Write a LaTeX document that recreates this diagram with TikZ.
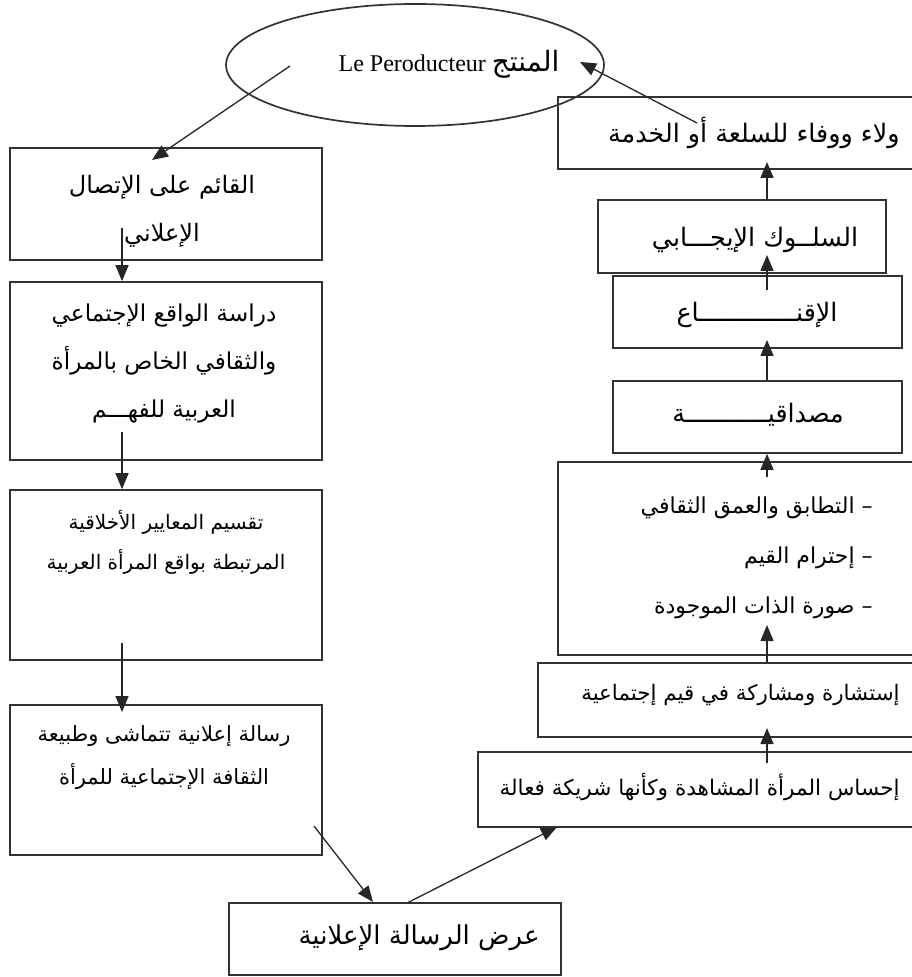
\documentclass[tikz,border=0pt]{standalone}
\usepackage{fontspec}
\setmainfont{Liberation Serif}
\newfontfamily\arabicfont[Script=Arabic]{DejaVu Sans}
\TeXXeTstate=1
\usetikzlibrary{arrows.meta,shapes.geometric,calc}
\newcommand{\rl}[1]{\beginR#1\endR}
\begin{document}
\begin{tikzpicture}[x=0.5pt,y=-0.5pt,
  box/.style={draw=black!80,line width=0.85pt,inner sep=0pt},
  arr/.style={draw=black!85,line width=0.65pt,-{Triangle[length=8pt,width=6.5pt]}},
  txt/.style={inner sep=0pt,align=center,font=\arabicfont\fontsize{#1}{24pt}\selectfont},
  txt/.default=12]
  \useasboundingbox (0,0) rectangle (911,977);
  % producer
  \node[box,ellipse,minimum width=189pt,minimum height=61pt] (prod) at (415,65) {};
  \node[inner sep=0pt,font=\fontsize{12}{14}\selectfont] (prodtxt) at (449,64)
    {Le Peroducteur {\arabicfont\fontsize{14}{16}\selectfont\rl{المنتج}}};
  % left column
  \node[box,minimum width=156pt,minimum height=56pt] (b1) at (166,204) {};
  \node[box,minimum width=156pt,minimum height=89pt] (b2) at (166,371) {};
  \node[box,minimum width=156pt,minimum height=85pt] (b3) at (166,575) {};
  \node[box,minimum width=156pt,minimum height=75pt] (b4) at (166,780) {};
  \node[box,minimum width=166pt,minimum height=36pt] (show) at (395,939) {};
  \node[txt] (t1) at (162,211) {\rl{القائم على الإتصال}\\\rl{الإعلاني}};
  \node[txt=11.6] (t2) at (164,364) {\rl{دراسة الواقع الإجتماعي}\\\rl{والثقافي الخاص بالمرأة}\\\rl{العربية للفهـــم}};
  \node[txt=10,font=\arabicfont\fontsize{10}{20pt}\selectfont] (t3) at (166,542) {\rl{تقسيم المعايير الأخلاقية}\\\rl{المرتبطة بواقع المرأة العربية}};
  \node[txt=10.5,font=\arabicfont\fontsize{10.5}{21.5pt}\selectfont] (t4) at (164,758) {\rl{رسالة إعلانية تتماشى وطبيعة}\\\rl{الثقافة الإجتماعية للمرأة}};
  \node[txt=13] (t5) at (419,938) {\rl{عرض الرسالة الإعلانية}};
  % right column
  \node[box,minimum width=181pt,minimum height=36pt] (loyal) at (739,133) {};
  \node[box,minimum width=144pt,minimum height=36.5pt] (behav) at (742,236.5) {};
  \node[box,minimum width=144.5pt,minimum height=36pt] (persu) at (757.5,312) {};
  \node[box,minimum width=144.5pt,minimum height=36pt] (cred) at (757.5,417) {};
  \node[box,minimum width=181pt,minimum height=96.5pt] (vals) at (739,558.5) {};
  \node[box,minimum width=191pt,minimum height=37pt] (share) at (729,700) {};
  \node[box,minimum width=221pt,minimum height=37.5pt] (feel) at (699,789.5) {};
  \node[txt=12.7,anchor=east] (t6) at (900,133) {\rl{ولاء ووفاء للسلعة أو الخدمة}};
  \node[txt=12.7] (t7) at (755,240) {\rl{السلــوك الإيجـــابي}};
  \node[txt=12.7] (t8) at (757,315) {\rl{الإقنـــــــــــــاع}};
  \node[txt=12.7] (t9) at (758,415) {\rl{مصداقيـــــــــــة}};
  \node[txt,anchor=east,align=right,font=\arabicfont\fontsize{11}{25pt}\selectfont] (t10) at (873,558)
    {\rl{– التطابق والعمق الثقافي}\\\rl{– إحترام القيم}\\\rl{– صورة الذات الموجودة}};
  \node[txt=10.7,anchor=east] (t11) at (900,695) {\rl{إستشارة ومشاركة في قيم إجتماعية}};
  \node[txt=10.8,anchor=east] (t12) at (900,787) {\rl{إحساس المرأة المشاهدة وكأنها  شريكة فعالة}};
  % connectors
  \coordinate (p1) at (290,66);
  \coordinate (q1) at (152,160);
  \coordinate (s2) at (122,228);
  \coordinate (s3) at (122,432);
  \coordinate (s4) at (122,643);
  \coordinate (e4) at (122,712);
  \coordinate (s5) at (314,826);
  \coordinate (e5) at (373,902);
  \coordinate (s6) at (407,903);
  \coordinate (e6) at (557,827);
  \coordinate (s7) at (767,763);
  \coordinate (e7) at (767,728);
  \coordinate (e8) at (767,625);
  \coordinate (s9) at (767,477);
  \coordinate (e10) at (767,340);
  \coordinate (s11) at (767,290);
  \coordinate (e11) at (767,255);
  \coordinate (e12) at (767,162);
  \coordinate (s13) at (697,123);
  \coordinate (e13) at (580,62);
  \draw[arr] (p1) -- (q1);
  \draw[arr] (s2) -- (s2 |- b2.north);
  \draw[arr] (s3) -- (s3 |- b3.north);
  \draw[arr] (s4) -- (e4);
  \draw[arr] (s5) -- (e5);
  \draw[arr] (s6) -- (e6);
  \draw[arr] (s7) -- (e7);
  \draw[arr] (e7 |- share.north) -- (e8);
  \draw[arr] (s9) -- (s9 |- cred.south);
  \draw[arr] (e10 |- cred.north) -- (e10);
  \draw[arr] (s11) -- (e11);
  \draw[arr] (e12 |- behav.north) -- (e12);
  \draw[arr] (s13) -- (e13);
\end{tikzpicture}
\end{document}
